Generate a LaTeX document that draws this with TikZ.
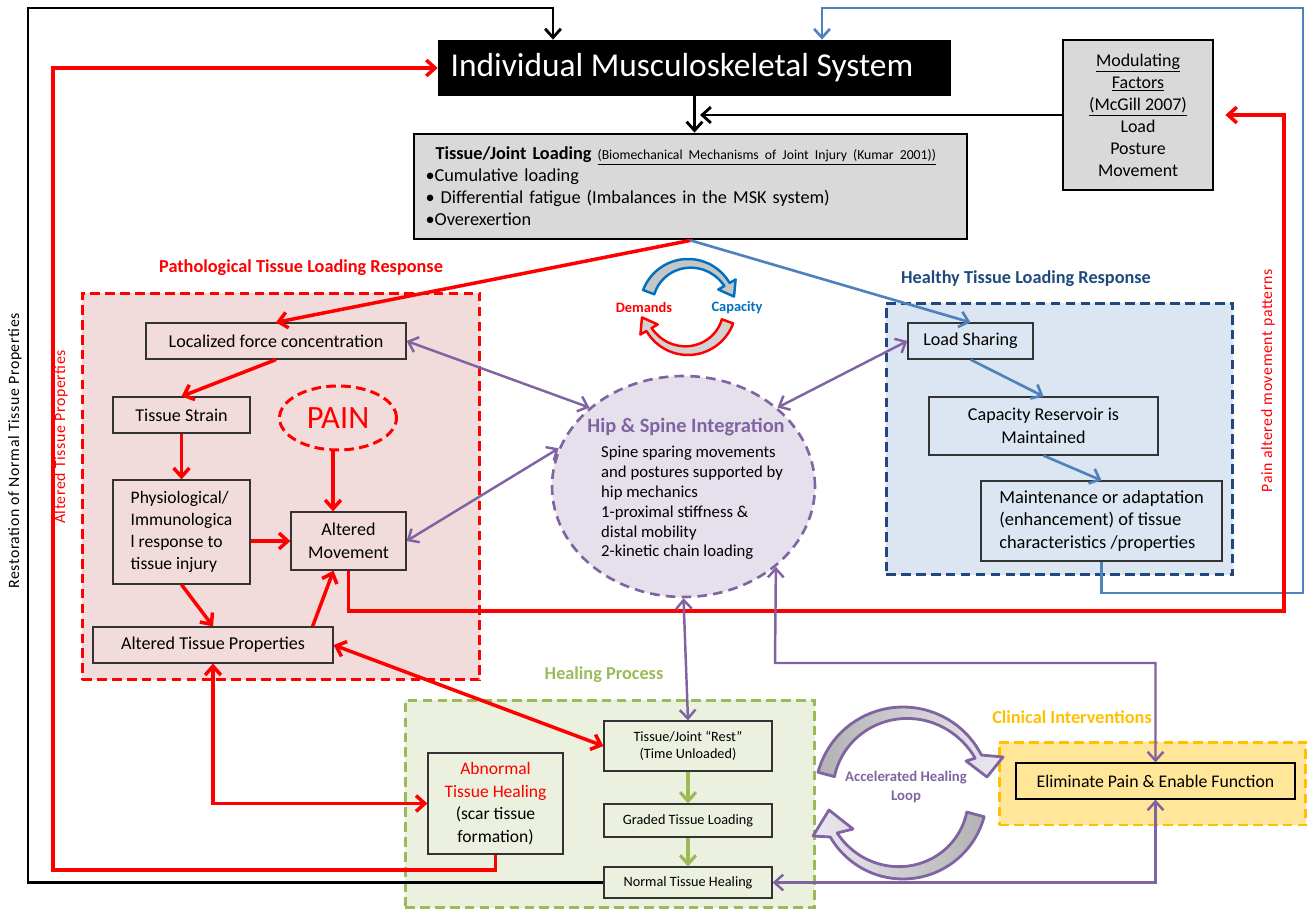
\documentclass[tikz,border=0pt]{standalone}
\usepackage{fontspec}
\setmainfont{Carlito}
\usepackage{tikz}
\usetikzlibrary{shapes.geometric, arrows.meta}

\definecolor{mskred}{HTML}{FF0000}
\definecolor{mskblue}{HTML}{4F81BD}
\definecolor{mskpurple}{HTML}{8064A2}
\definecolor{mskgreen}{HTML}{9BBB59}
\definecolor{mskorange}{HTML}{FFC000}
\definecolor{mskdarkblue}{HTML}{1F497D}
\definecolor{arcblue}{HTML}{0070C0}
\definecolor{pinkfill}{HTML}{F2DCDB}
\definecolor{bluefill}{HTML}{DCE6F2}
\definecolor{greenfill}{HTML}{EBF1DE}
\definecolor{yellowfill}{HTML}{FFE699}
\definecolor{lilacfill}{HTML}{E5E0EC}
\definecolor{boxgray}{HTML}{D9D9D9}

\tikzstyle{region} = [rectangle, line width=1.7pt, dash pattern=on 5.5pt off 3pt]
\tikzstyle{box} = [rectangle, draw=black!80, line width=0.7pt, align=center, font=\fontsize{10.3}{12.8}\selectfont]
\tikzstyle{smallbox} = [rectangle, draw=black!80, line width=0.7pt, align=center, minimum width=3.36cm, font=\fontsize{8.1}{9.8}\selectfont]
\tikzstyle{heavy} = [rectangle, draw=black, line width=1.6pt, fill=boxgray]
\tikzstyle{heading} = [font=\bfseries\fontsize{10.4}{12}\selectfont]
\tikzstyle{sidetext} = [rotate=90, font=\fontsize{9}{10}\selectfont\addfontfeature{LetterSpace=4}]
\tikzstyle{redarrow} = [draw=mskred, line width=2pt, ->, >={Straight Barb[length=5pt,width=9pt]}]
\tikzstyle{blkarrow} = [draw=black, line width=1.6pt, ->, >={Straight Barb[length=5pt,width=9pt]}]
\tikzstyle{bluearrow} = [draw=mskblue, line width=1.5pt, ->, >={Straight Barb[length=5pt,width=9pt]}]
\tikzstyle{purparrow} = [draw=mskpurple, line width=1.4pt, ->, >={Straight Barb[length=5pt,width=9pt]}]
\tikzstyle{greenarrow} = [draw=mskgreen, line width=1.8pt, ->, >={Straight Barb[length=5pt,width=9pt]}]
\tikzstyle{loopband} = [draw=mskpurple, line width=1.6pt, line join=round]

\begin{document}
\begin{tikzpicture}[x=0.02cm, y=-0.02cm]
	\useasboundingbox (0,0) rectangle (1308,911);

		% Draw the regions
		\node (pathbox) [region, draw=mskred, fill=pinkfill, minimum width=7.96cm, minimum height=7.74cm] at (281,486.5) {};
		\node (healthybox) [region, draw=mskdarkblue, fill=bluefill, minimum width=6.94cm, minimum height=5.44cm] at (1059.5,439) {};
		\node (healbox) [region, draw=mskgreen, fill=greenfill, minimum width=8.2cm, minimum height=4.16cm] at (610,804) {};
		\node (clinbox) [region, draw=mskorange, fill=yellowfill, minimum width=6.14cm, minimum height=1.66cm] at (1152.5,783.5) {};
		\node (hip) [ellipse, draw=mskpurple, fill=lilacfill, line width=1.5pt, dash pattern=on 5.5pt off 3.5pt, minimum width=5.26cm, minimum height=4.42cm] at (683.5,486.5) {};

		% Draw the nodes
		\node (msk) [rectangle, fill=black, text=white, minimum width=10.26cm, minimum height=1.12cm, font=\fontsize{19}{22}\selectfont] at (694.5,68) {Individual Musculoskeletal System\hspace*{0.5cm}};
		\node (loading) [heavy, text width=10.6cm, inner xsep=0.23cm, minimum height=2.1cm, align=left, font=\fontsize{10.4}{12.5}\selectfont] at (690.5,186.5) {\hspace*{0.2cm}\textbf{Tissue/Joint Loading} {\fontsize{7.8}{8}\selectfont\underline{(Biomechanical Mechanisms of Joint Injury (Kumar 2001))}}\\ •Cumulative loading\\ • Differential fatigue (Imbalances in the MSK system)\\ •Overexertion};
		\node (modfac) [heavy, minimum width=3cm, minimum height=3cm, align=center, font=\fontsize{10.2}{12.5}\selectfont] at (1138,115) {\underline{Modulating}\\ \underline{Factors}\\ \underline{(McGill 2007)}\\ Load\\ Posture\\ Movement};

		\node (localized) [box, minimum width=5.2cm, minimum height=0.72cm] at (276,341) {Localized force concentration};
		\node (strain) [box, minimum width=2.74cm, minimum height=0.72cm] at (181.5,415) {Tissue Strain};
		\node (pain) [ellipse, draw=mskred, line width=1.7pt, dash pattern=on 5.5pt off 3pt, text=mskred, minimum width=2.34cm, minimum height=1.28cm, font=\fontsize{18.5}{20}\selectfont] at (338,418) {PAIN};
		\node (physio) [box, align=left, minimum width=2.74cm, minimum height=2.08cm, font=\fontsize{10}{12.5}\selectfont] at (181.5,532) {Physiological/\\ Immunologica\\ l response to\\ tissue injury};
		\node (altmove) [box, minimum width=2.3cm, minimum height=1.16cm] at (348.5,541) {Altered\\ Movement};
		\node (atp) [box, minimum width=4.8cm, minimum height=0.72cm] at (213,645) {Altered Tissue Properties};

		\node (hiptitle) [text=mskpurple, font=\bfseries\fontsize{11.6}{13}\selectfont] at (686,427) {Hip \& Spine Integration};
		\node (hipbody) [anchor=west, align=left, font=\fontsize{9.5}{11.3}\selectfont] at (595,503) {Spine sparing movements\\ and postures supported by\\ hip mechanics\\ 1-proximal stiffness \&\\ distal mobility\\ 2-kinetic chain loading};

		\node (loadshare) [box, minimum width=2.5cm, minimum height=0.72cm] at (970.5,341) {Load Sharing};
		\node (capres) [box, minimum width=4.58cm, minimum height=1.16cm] at (1043.5,426) {Capacity Reservoir is\\ Maintained};
		\node (maint) [box, align=left, minimum width=4.82cm, minimum height=1.6cm, font=\fontsize{10.5}{12.8}\selectfont] at (1101.5,521) {Maintenance or adaptation\\ (enhancement) of tissue\\ characteristics /properties};

		\node (rest) [smallbox, minimum height=1.0cm] at (688,746) {Tissue/Joint “Rest”\\ (Time Unloaded)};
		\node (graded) [smallbox, minimum height=0.66cm] at (688,820.5) {Graded Tissue Loading};
		\node (normal) [smallbox, minimum height=0.62cm] at (688,882.5) {Normal Tissue Healing};
		\node (abnormal) [box, minimum width=2.7cm, minimum height=2.02cm, font=\fontsize{10}{12.8}\selectfont] at (495.5,803.5) {\textcolor{mskred}{Abnormal}\\ \textcolor{mskred}{Tissue Healing}\\ (scar tissue\\ formation)};
		\node (eliminate) [box, draw=black, minimum width=5.58cm, minimum height=0.72cm, font=\fontsize{10.1}{12}\selectfont] at (1155.5,781) {Eliminate Pain \& Enable Function};

		% Draw the labels
		\node (pathtitle) [heading, text=mskred] at (301,268) {Pathological Tissue Loading Response};
		\node (healthytitle) [heading, text=mskdarkblue] at (1026,279) {Healthy Tissue Loading Response};
		\node (healtitle) [heading, text=mskgreen] at (604,675) {Healing Process};
		\node (clintitle) [heading, text=mskorange] at (1072,717) {Clinical Interventions};
		\node (looptitle) [align=center, text=mskpurple, font=\bfseries\fontsize{8.4}{10.5}\selectfont] at (906,787) {Accelerated Healing\\ Loop};
		\node (demands) [text=mskred, font=\bfseries\fontsize{8.2}{9}\selectfont] at (644,308) {Demands};
		\node (capacity) [text=arcblue, font=\bfseries\fontsize{8.2}{9}\selectfont] at (737,308) {Capacity};
		\node (restlabel) [sidetext] at (15,451) {Restoration of Normal Tissue Properties};
		\node (altlabel) [sidetext, text=mskred] at (61,437) {Altered Tissue Properties};
		\node (painlabel) [sidetext, text=mskred] at (1268,381) {Pain altered movement patterns};

		% Corner points of the long return lines
		\coordinate (blkTL) at (28,8);
		\coordinate (blkT) at (553,8);
		\coordinate (modtip) at (700,115);
		\coordinate (redBL) at (53,870);
		\coordinate (redTL) at (53,68);
		\coordinate (redBR) at (1284,611);
		\coordinate (redTR) at (1284,115);
		\coordinate (blueBR) at (1303,593);
		\coordinate (blueTR) at (1303,8);
		\coordinate (blueT) at (822,8);
		\coordinate (purpC) at (775,663);

		% Draw the arrows
		\draw [blkarrow] (normal.west) -| (blkTL) -- (blkT) -- (blkT |- msk.north);
		\draw [blkarrow] (msk.south) -- (msk.south |- loading.north);
		\draw [blkarrow] (modfac.west) -- (modtip);
		\draw [bluearrow] (maint.south) |- (blueBR) -- (blueTR) -- (blueT) -- (blueT |- msk.north);
		\draw [redarrow] (abnormal.south) |- (redBL) -- (redTL) -- (msk.west);
		\draw [redarrow] (altmove.south) |- (redBR) -- (redTR) -- ([xshift=0.22cm]modfac.east);

		\draw [redarrow] (loading.south) -- (localized.north);
		\draw [bluearrow] (loading.south) -- (loadshare.north);
		\draw [redarrow] (localized.south) -- (strain.north);
		\draw [redarrow] (strain.south) -- (physio.north);
		\draw [redarrow] ([xshift=-0.1cm]pain.south) -- ([xshift=-0.1cm]pain.south |- altmove.north);
		\draw [redarrow] (physio.east |- altmove.west) -- (altmove.west);
		\draw [redarrow] (physio.south) -- (atp.north);
		\draw [redarrow] ([xshift=-0.42cm]atp.north east) -- ([xshift=-0.3cm]altmove.south);
		\draw [redarrow, <->] (atp.east) -- (rest.west);
		\draw [redarrow, <->] (atp.south) |- (abnormal.west);

		\draw [bluearrow] (loadshare.south) -- (capres.north);
		\draw [bluearrow] (capres.south) -- (maint.north);

		\draw [purparrow, <->] (localized.east) -- (hip.140);
		\draw [purparrow, <->] (altmove.east) -- (hip.163);
		\draw [purparrow, <->] (loadshare.west) -- (hip.40);
		\draw [purparrow, <->] (hip.south) -- (rest.north);
		\draw [purparrow, <->] (eliminate.north) |- (purpC) -- (hip.-41);
		\draw [purparrow, <->] (eliminate.south) |- (normal.east);

		\draw [greenarrow] (rest.south) -- (graded.north);
		\draw [greenarrow] (graded.south) -- (normal.north);

		% Demands / capacity cycle
		\draw [draw=arcblue, fill=gray!45, line width=1.4pt, line join=round]
			plot[domain=200.7:330, samples=30] ({688+48*cos(\x)}, {307+48*sin(\x)})
			-- (735.6,279.5) -- (734,296.6) -- (718.3,289.5)
			-- plot[domain=330:200.7, samples=30] ({688+(36+6*(\x-200.7)/129.3)*cos(\x)}, {307+(36+6*(\x-200.7)/129.3)*sin(\x)})
			-- cycle;
		\draw [draw=mskred, fill=gray!35, line width=1.4pt, line join=round]
			plot[domain=20:150, samples=30] ({688+48*cos(\x)}, {307+48*sin(\x)})
			-- (640.4,334.5) -- (642,317.4) -- (657.7,324.5)
			-- plot[domain=150:20, samples=30] ({688+(36+6*(\x-20)/130)*cos(\x)}, {307+(36+6*(\x-20)/130)*sin(\x)})
			-- cycle;

		% Accelerated healing loop
		\draw [loopband, left color=gray!60, right color=mskpurple!15]
			plot[domain=195:333, samples=40] ({903+88*cos(\x)}, {795+88*sin(\x)})
			-- (1003,757) -- (987,777) -- (966,761)
			-- plot[domain=333:195, samples=40] ({903+(71+10*(\x-195)/138)*cos(\x)}, {795+(71+10*(\x-195)/138)*sin(\x)})
			-- cycle;
		\draw [loopband, left color=mskpurple!15, right color=gray!60]
			plot[domain=15:150, samples=40] ({903+84*cos(\x)}, {795+84*sin(\x)})
			-- (813,836) -- (829,810) -- (853,829)
			-- plot[domain=150:15, samples=40] ({903+(76-10*(150-\x)/135)*cos(\x)}, {795+(76-10*(150-\x)/135)*sin(\x)})
			-- cycle;

\end{tikzpicture}
\end{document}
